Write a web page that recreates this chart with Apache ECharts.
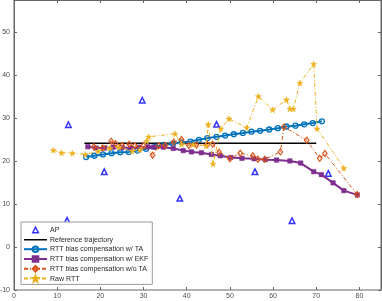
<!DOCTYPE html>
<html><head><meta charset="utf-8">
<script src="https://cdn.jsdelivr.net/npm/echarts@6/dist/echarts.min.js"></script>
<style>html,body{margin:0;padding:0;background:#fff}#c{width:382px;height:301px}</style>
</head><body><div id="c"></div>
<script>
// ---- data ----
const apX = [12.6, 29.7, 46.9, 20.9, 38.4, 55.8, 72.8, 12.3, 64.4];
const apY = [28.4, 34.1, 28.5, 17.5, 11.3, 17.5, 17.1, 6.2, 6.1];

const refX = [16.3, 70.0];
const refY = [24.1, 24.1];

const taX = [16.7,18.6,20.6,22.6,24.6,26.6,28.6,30.6,32.7,34.7,36.8,38.8,40.9,42.8,44.8,46.9,48.9,50.9,53.0,55.0,57.0,59.1,61.1,63.1,65.2,67.2,69.2,71.3];
const taY = [20.9,21.2,21.5,21.8,22.0,22.1,22.4,22.8,23.3,23.7,24.0,24.3,24.5,24.9,25.3,25.6,25.9,26.2,26.5,26.8,27.0,27.3,27.6,28.0,28.2,28.5,28.8,29.2];

const ekfX = [17.1,19.0,21.0,23.0,25.0,27.0,29.0,31.0,32.3,34.6,36.9,39.2,41.1,43.4,45.7,47.8,50.2,52.8,55.6,58.2,60.8,63.9,66.4,69.4,71.2,73.9,76.4,79.5];
const ekfY = [23.3,23.0,23.0,23.2,23.1,23.0,23.2,23.3,23.2,23.2,22.9,22.4,22.1,21.9,21.5,21.2,20.8,20.6,20.5,20.3,20.2,20.0,19.5,17.5,16.8,14.9,13.1,12.1];

const woX = [18.5,20.5,22.5,23.5,25.0,26.7,28.0,30.0,32.1,33.5,35.0,37.0,38.8,40.5,42.3,44.8,46.0,47.5,50.0,52.4,55.3,56.5,58.1,61.7,62.5,67.8,70.8,72.0,79.5];
const woY = [23.3,23.0,24.6,24.0,23.6,23.9,23.5,23.5,21.3,23.5,23.6,24.4,25.0,23.6,23.7,23.8,23.9,22.0,20.5,21.8,21.2,20.4,20.4,22.1,27.9,24.8,20.6,21.7,12.2];

const rawX = [9.1,11.0,13.5,16.5,19.5,22.2,24.3,27.4,29.2,30.7,31.2,37.3,38.8,41.5,44.5,45.0,46.1,47.9,49.8,53.9,56.6,59.9,63.1,63.9,64.7,66.2,69.4,70.2,76.4];
const rawY = [22.5,21.9,21.8,21.5,22.3,23.0,23.2,22.3,22.6,24.6,25.6,26.3,23.9,23.8,23.5,28.5,19.3,27.5,29.8,27.7,35.0,31.9,34.2,32.1,32.1,38.1,42.5,27.5,18.3];

const xTicks = [0,10,20,30,40,50,60,70,80];
const yTicks = [-10,0,10,20,30,40,50];

const names = ['AP','Reference trajectory','RTT bias compensation w/ TA','RTT bias compensation w/ EKF','RTT bias compensation w/o TA','Raw RTT'];

// ---- chart ----
const zip = (a, b) => a.map((v, i) => [v, b[i]]);
const STAR = 'path://M0,-10 L2.35,-3.24 L9.51,-3.09 L3.8,1.24 L5.88,8.09 L0,4 L-5.88,8.09 L-3.8,1.24 L-9.51,-3.09 L-2.35,-3.24 Z';
const TRI_ICON = 'path://M0,0 L0.01,0 Z M23,7 L23.01,7 Z M8.7,6.5 L11.5,1 L14.3,6.5 Z';
const LINE_ICON = 'path://M0,0 L0.01,0 Z M23,7 L23.01,7 Z M0,2.75 L23,2.75 L23,4.25 L0,4.25 Z';
const axisCol = '#666';
const labCol = '#4d4d4d';
const FONT = 'Liberation Sans, Arial, sans-serif';

const xFmt = v => xTicks.includes(v) ? String(v) : '';
const yFmt = v => yTicks.includes(v) ? String(v) : '';

function axisBase(showLine) {
  return {
    axisLine: {show: showLine, onZero: false, lineStyle: {color: axisCol, width: 1}},
    axisTick: {show: true, inside: true, length: 3, lineStyle: {color: axisCol}},
    splitLine: {show: false}
  };
}

const chart = echarts.init(document.getElementById('c'), null, {renderer: 'canvas'});
chart.setOption({
  animation: false,
  backgroundColor: '#fff',
  grid: {left: 14, right: 1, top: 0, bottom: 11, outerBoundsMode: 'none',
         show: true, borderColor: axisCol, borderWidth: 1, backgroundColor: 'rgba(0,0,0,0)'},
  xAxis: [
    Object.assign({type: 'value', min: 0, max: 85, interval: 10, position: 'bottom',
     axisLabel: {show: true, formatter: xFmt, color: labCol, fontSize: 7, fontFamily: FONT, margin: 3}}, axisBase(false)),
    Object.assign({type: 'value', min: 0, max: 85, interval: 10, position: 'top',
     axisLabel: {show: false}}, axisBase(true))
  ],
  yAxis: [
    Object.assign({type: 'value', min: -10, max: 57.4, interval: 10, position: 'left',
     axisLabel: {show: true, formatter: yFmt, color: labCol, fontSize: 7, fontFamily: FONT, margin: 4}}, axisBase(true)),
    Object.assign({type: 'value', min: -10, max: 57.4, interval: 10, position: 'right',
     axisLabel: {show: false}}, axisBase(true))
  ],
  legend: {
    orient: 'vertical', left: 21, top: 222,
    padding: [3.5, 4, 2, 2],
    itemWidth: 23, itemHeight: 7, itemGap: 2.2,
    backgroundColor: '#fff', borderColor: '#999', borderWidth: 1, borderRadius: 0,
    textStyle: {fontSize: 7, lineHeight: 7, fontFamily: FONT, color: '#262626', padding: [0,0,0,-2]},
    data: [
      {name: names[0], icon: TRI_ICON, itemStyle: {color: '#fff', borderColor: '#0000ff', borderWidth: 1.5}},
      {name: names[1], icon: LINE_ICON, itemStyle: {color: '#000', borderWidth: 0}},
      {name: names[2]}, {name: names[3]}, {name: names[4]}, {name: names[5]}
    ]
  },
  series: [
    {name: names[0], type: 'scatter', data: zip(apX, apY), symbol: 'triangle', symbolSize: 5.5,
     itemStyle: {color: '#fff', borderColor: '#0000ff', borderWidth: 1.5}, z: 2},
    {name: names[1], type: 'line', data: zip(refX, refY), symbol: 'none', showSymbol: false,
     lineStyle: {color: '#000', width: 1.5}, itemStyle: {color: '#000'}, z: 3},
    {name: names[2], type: 'line', data: zip(taX, taY), symbol: 'circle', symbolSize: 5,
     lineStyle: {color: '#0072BD', width: 2}, itemStyle: {color: 'rgba(255,255,255,0)', borderColor: '#0072BD', borderWidth: 1.3}, z: 4},
    {name: names[3], type: 'line', data: zip(ekfX, ekfY), symbol: 'rect', symbolSize: 4.5,
     lineStyle: {color: '#7E2F8E', width: 2}, itemStyle: {color: '#7E2F8E', borderColor: '#7E2F8E', borderWidth: 0.5}, z: 5},
    {name: names[4], type: 'line', data: zip(woX, woY), symbol: 'diamond', symbolSize: [4.5, 6],
     lineStyle: {color: '#D95319', width: 1, type: [4, 2, 1, 2]}, itemStyle: {color: 'rgba(255,255,255,0)', borderColor: '#D95319', borderWidth: 1.2}, z: 6},
    {name: names[5], type: 'line', data: zip(rawX, rawY), symbol: STAR, symbolSize: 6,
     lineStyle: {color: '#EDB120', width: 1, type: [4, 2, 1, 2]}, itemStyle: {color: '#EDB120', borderColor: '#EDB120', borderWidth: 0.5}, z: 7}
  ]
});
</script></body></html>
